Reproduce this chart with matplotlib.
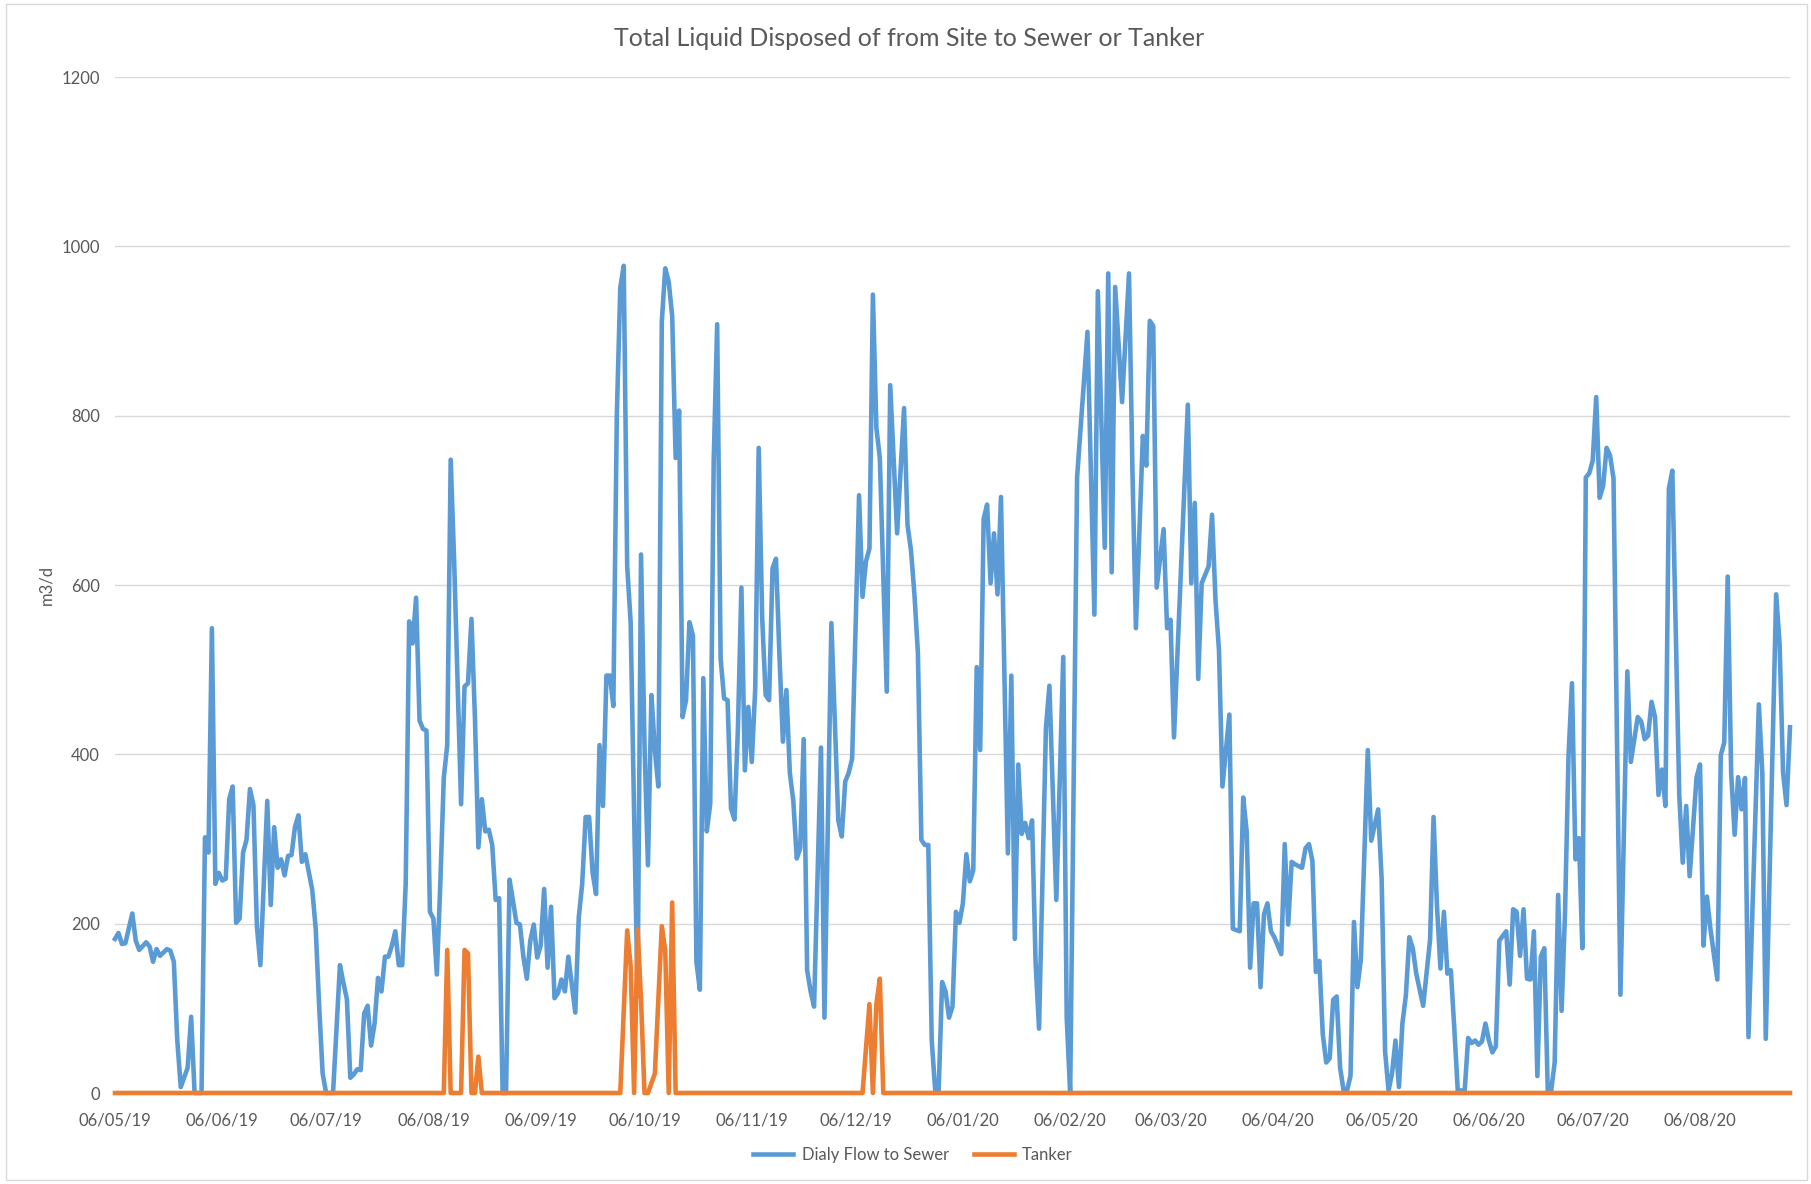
import matplotlib
matplotlib.use("Agg")
import matplotlib.pyplot as plt
import pandas as pd
from matplotlib.lines import Line2D
from matplotlib.patches import Rectangle

plt.rcParams['font.family'] = ['Lato', 'DejaVu Sans']

# ---------------- data ----------------
start_date = "2019-05-06"          # 06/05/19
end_offset = 484                   # last day shown (days after start)

flow_days = [0, 1, 2, 3, 5, 6, 7, 9, 10, 11, 12, 13, 15, 16, 17, 18, 19, 21, 22, 23, 25, 26, 27, 28, 29, 30,
             31, 32, 33, 34, 35, 36, 37, 38, 39, 40, 41, 42, 44, 45, 46, 47, 48, 49, 50, 51, 52, 53, 54, 55,
             57, 58, 59, 60, 61, 63, 65, 66, 67, 68, 69, 70, 71, 72, 73, 74, 75, 76, 77, 78, 79, 80, 81, 82,
             83, 84, 85, 86, 87, 88, 89, 90, 91, 92, 93, 94, 95, 96, 97, 98, 99, 100, 101, 102, 103, 104, 105,
             106, 107, 108, 109, 110, 111, 112, 113, 114, 115, 116, 117, 118, 119, 120, 121, 122, 123, 124,
             125, 126, 127, 128, 129, 130, 131, 132, 133, 134, 135, 136, 137, 138, 139, 140, 141, 142, 143,
             144, 145, 146, 147, 148, 149, 150, 151, 152, 153, 154, 155, 156, 157, 158, 159, 160, 161, 162,
             163, 164, 165, 166, 167, 168, 169, 170, 171, 172, 173, 174, 175, 176, 177, 178, 179, 180, 181,
             182, 183, 184, 185, 186, 187, 188, 189, 190, 191, 192, 193, 194, 195, 196, 197, 198, 199, 200,
             201, 202, 204, 205, 207, 209, 210, 211, 212, 213, 215, 216, 217, 218, 219, 220, 221, 223, 224,
             226, 228, 229, 230, 231, 232, 233, 234, 235, 236, 237, 238, 239, 240, 241, 242, 243, 244, 245,
             246, 247, 248, 249, 250, 251, 252, 253, 254, 255, 256, 258, 259, 260, 261, 262, 263, 264, 265,
             266, 267, 269, 270, 272, 274, 275, 276, 278, 281, 283, 284, 286, 287, 288, 289, 291, 293, 294,
             295, 297, 298, 299, 300, 301, 303, 304, 305, 306, 310, 311, 312, 313, 314, 316, 317, 318, 319,
             320, 322, 323, 325, 326, 327, 328, 329, 330, 331, 332, 333, 334, 335, 337, 338, 339, 340, 341,
             343, 344, 345, 346, 347, 348, 349, 350, 351, 352, 353, 354, 355, 356, 357, 358, 359, 360, 362,
             363, 365, 366, 367, 368, 369, 370, 371, 372, 373, 374, 375, 376, 377, 378, 380, 381, 382, 383,
             384, 385, 386, 387, 388, 390, 391, 392, 393, 394, 395, 396, 397, 398, 399, 400, 402, 403, 404,
             405, 406, 407, 408, 409, 410, 411, 412, 413, 414, 415, 416, 417, 418, 419, 420, 421, 422, 423,
             424, 425, 426, 427, 428, 429, 430, 431, 432, 433, 435, 437, 438, 440, 441, 442, 443, 444, 445,
             446, 447, 448, 449, 450, 452, 453, 454, 455, 457, 458, 459, 460, 461, 463, 464, 465, 466, 467,
             468, 469, 470, 471, 472, 475, 476, 477, 480, 481, 482, 483, 484]
flow_values = [182, 189, 176, 177, 212, 180, 169, 178, 173, 155, 170, 162, 170, 168, 155, 62, 7, 30, 90, 0, 0, 302,
               284, 549, 247, 260, 251, 253, 347, 362, 201, 206, 284, 299, 359, 340, 197, 151, 345, 222, 314,
               266, 276, 257, 280, 281, 314, 328, 273, 282, 240, 194, 102, 23, 0, 0, 151, 130, 111, 18, 22, 28,
               27, 94, 103, 56, 82, 136, 120, 161, 161, 174, 191, 151, 151, 247, 557, 531, 585, 440, 430, 428,
               214, 206, 140, 247, 372, 411, 748, 628, 484, 341, 480, 484, 560, 444, 290, 347, 309, 311, 293,
               228, 230, 0, 0, 252, 227, 201, 199, 161, 135, 180, 199, 160, 174, 241, 148, 220, 112, 118, 134,
               120, 161, 128, 95, 207, 247, 326, 326, 260, 235, 411, 339, 493, 493, 457, 800, 951, 977, 622,
               556, 330, 115, 636, 411, 269, 470, 405, 362, 911, 974, 958, 918, 750, 806, 444, 464, 556, 540,
               155, 122, 490, 309, 342, 747, 908, 513, 466, 464, 336, 323, 431, 597, 381, 456, 391, 478, 762,
               562, 470, 464, 620, 631, 516, 415, 476, 378, 345, 277, 289, 418, 145, 120, 102, 408, 89, 555,
               322, 303, 368, 378, 395, 706, 586, 628, 643, 943, 786, 750, 474, 836, 661, 809, 671, 641, 589,
               520, 299, 293, 293, 62, 3, 3, 131, 120, 89, 102, 214, 201, 224, 282, 250, 263, 503, 405, 678,
               695, 602, 661, 589, 704, 283, 493, 182, 388, 306, 319, 301, 322, 155, 76, 431, 481, 228, 515,
               89, 0, 727, 899, 565, 947, 644, 968, 615, 952, 816, 968, 734, 549, 776, 741, 912, 906, 597, 666,
               549, 559, 420, 813, 602, 697, 489, 602, 622, 683, 582, 523, 362, 447, 194, 191, 349, 309, 148,
               224, 224, 125, 211, 224, 191, 184, 164, 294, 199, 273, 270, 266, 289, 294, 274, 143, 156, 69,
               36, 41, 110, 114, 30, 3, 3, 20, 202, 125, 158, 405, 298, 335, 253, 49, 3, 23, 62, 7, 82, 115,
               184, 171, 141, 122, 103, 181, 326, 220, 147, 214, 141, 145, 76, 3, 3, 65, 59, 62, 57, 61, 82,
               62, 48, 55, 180, 191, 128, 217, 214, 162, 217, 135, 134, 191, 20, 161, 171, 3, 3, 36, 234, 97,
               214, 398, 484, 276, 301, 171, 727, 732, 747, 822, 703, 717, 762, 753, 726, 116, 498, 391, 444,
               439, 418, 422, 462, 444, 352, 382, 339, 714, 735, 352, 272, 339, 256, 373, 388, 174, 232, 194,
               134, 399, 414, 610, 378, 305, 373, 335, 372, 66, 459, 378, 64, 589, 530, 378, 340, 432]

tanker_days = [0, 95, 96, 97, 100, 101, 102, 103, 104, 105, 106, 146, 148, 149, 150, 151, 152, 153, 154, 156,
               158, 159, 160, 161, 162, 216, 218, 219, 220, 221, 222, 484]
tanker_values = [0, 0, 169, 0, 0, 169, 165, 0, 0, 43, 0, 0, 192, 150, 0, 194, 110, 0, 0, 23,
                 197, 168, 0, 225, 0, 0, 105, 0, 105, 135, 0, 0]

y_ticks = [0, 200, 400, 600, 800, 1000, 1200]
n_month_ticks = 16
series_names = ["Dialy Flow to Sewer", "Tanker"]
title_text = "Total Liquid Disposed of from Site to Sewer or Tanker"
y_label = "m3/d"

# ---------------- plot ----------------
W, H = 1811, 1184
start = pd.Timestamp(start_date)
flow_dates = start + pd.to_timedelta(flow_days, unit="D")
tanker_dates = start + pd.to_timedelta(tanker_days, unit="D")
tick_dates = pd.date_range(start, periods=n_month_ticks, freq=pd.DateOffset(months=1))

blue = "#5B9BD5"
orange = "#ED7D31"
grey = "#595959"

fig = plt.figure(figsize=(W / 100, H / 100), dpi=100)
fig.patch.set_facecolor("white")
ax = fig.add_axes([115 / W, 91 / H, (1790 - 115) / W, (1093 - 77) / H])

ax.plot(flow_dates, flow_values, color=blue, lw=3.3, solid_joinstyle="round",
        zorder=3, clip_on=False)
ax.plot(tanker_dates, tanker_values, color=orange, lw=3.3, solid_joinstyle="round",
        zorder=4, clip_on=False)

ax.set_xlim(start, start + pd.Timedelta(days=end_offset))
ax.set_ylim(0, 1200)
ax.set_yticks(y_ticks)
ax.set_xticks(tick_dates)
ax.set_xticklabels([d.strftime("%d/%m/%y") for d in tick_dates])
ax.grid(axis="y", color="#D9D9D9", lw=1.0, zorder=0)
for s in ax.spines.values():
    s.set_visible(False)
ax.tick_params(axis="both", length=0, labelsize=12, colors=grey)
ax.tick_params(axis="y", pad=11)
ax.tick_params(axis="x", pad=14)

fig.text(909 / W, 1 - 39 / H, title_text, ha="center", va="center", fontsize=18, color=grey)
fig.text(46 / W, 1 - 585 / H, y_label, rotation=90, ha="center", va="center", fontsize=12, color=grey)

handles = [Line2D([], [], color=blue, lw=3.3), Line2D([], [], color=orange, lw=3.3)]
fig.legend(handles, series_names, loc="center", bbox_to_anchor=(913 / W, 1 - 1155 / H), ncol=2,
           frameon=False, fontsize=12, labelcolor=grey, handlelength=2.4, columnspacing=1.5,
           handletextpad=0.5)

fig.patches.append(Rectangle((6 / W, 4 / H), (W - 10) / W, (1180 - 4) / H, transform=fig.transFigure,
                             fill=False, edgecolor="#D9D9D9", lw=1.0))

fig.savefig("out.png", dpi=100)
